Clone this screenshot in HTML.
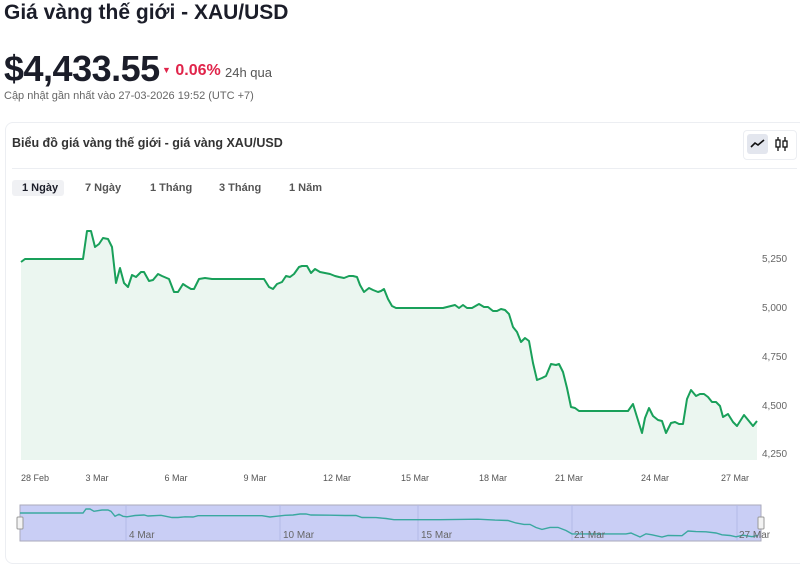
<!DOCTYPE html>
<html><head><meta charset="utf-8"><style>
body{margin:0;background:#fff;width:800px;height:547px;overflow:hidden;font-family:"Liberation Sans","DejaVu Sans",sans-serif;color:#1b1d29;position:relative}
.a{position:absolute;white-space:nowrap}
</style></head><body>
<div class="a" style="left:4px;top:1px;font-size:21px;font-weight:600">Giá vàng thế giới - XAU/USD</div>
<div class="a" style="left:4px;top:48px;font-size:36px;font-weight:700;letter-spacing:-0.5px">$4,433.55</div>
<div class="a" style="left:162px;top:62px;font-size:16px;font-weight:700;color:#e0244a"><span style="font-size:9px;vertical-align:2px">▼</span> 0.06%</div>
<div class="a" style="left:225px;top:65px;font-size:13px;color:#555">24h qua</div>
<div class="a" style="left:4px;top:90px;font-size:11px;color:#666">Cập nhật gần nhất vào 27-03-2026 19:52 (UTC +7)</div>
<div class="a" style="left:5px;top:122px;width:800px;height:440px;border:1px solid #eceef2;border-radius:8px"></div>
<div class="a" style="left:12px;top:136px;font-size:12.5px;font-weight:600;color:#333">Biểu đồ giá vàng thế giới - giá vàng XAU/USD</div>
<div class="a" style="left:12px;top:168px;width:785px;border-top:1px solid #eceef2"></div>
<div class="a" style="left:743px;top:130px;width:52px;height:28px;border:1px solid #eceef2;border-radius:4px"></div>
<div class="a" style="left:747px;top:134px;width:21px;height:20px;background:#e3e6ee;border-radius:3px"></div>
<svg class="a" style="left:749px;top:137px" width="18" height="14"><polyline points="2,10 6,6 9,8 15,3" fill="none" stroke="#111" stroke-width="1.6"/></svg>
<svg class="a" style="left:774px;top:136px" width="16" height="16"><g stroke="#111" stroke-width="1.3" fill="none"><line x1="4" y1="1" x2="4" y2="15"/><rect x="2" y="4" width="4" height="7" fill="#fff"/><line x1="11" y1="1" x2="11" y2="15"/><rect x="9" y="5" width="4" height="6" fill="#fff"/></g></svg>
<div class="a" style="left:12px;top:180px;width:52px;height:16px;background:#f0f1f4;border-radius:3px"></div>
<div class="a" style="left:22px;top:182px;font-size:11px;font-weight:700">1 Ngày</div>
<div class="a" style="left:85px;top:182px;font-size:11px;font-weight:600;color:#555">7 Ngày</div>
<div class="a" style="left:150px;top:182px;font-size:11px;font-weight:600;color:#555">1 Tháng</div>
<div class="a" style="left:219px;top:182px;font-size:11px;font-weight:600;color:#555">3 Tháng</div>
<div class="a" style="left:289px;top:182px;font-size:11px;font-weight:600;color:#555">1 Năm</div>
<svg class="a" style="left:0;top:0" width="800" height="547">
<defs>
<polyline id="ln" points="21,262 25,259 83,259 87,231 91,231 95,247 99,244 103,238 108,239 112,247 116,283 120,268 124,283 128,287 132,275 136,277 141,272 144,272 149,281 153,280 158,274 162,276 169,279 174,292 178,292 183,284 186,286 191,289 194,289 199,279 205,278 212,279 264,279 269,287 273,289 277,284 282,282 286,276 290,277 294,274 299,267 302,266 307,266 311,273 315,269 320,272 325,273 330,274 335,276 339,277 344,278 349,276 353,276 357,277 360,285 364,292 369,288 373,290 378,292 381,291 384,289 388,299 392,306 396,308 443,308 455,305 459,308 463,305 467,308 472,308 479,304 484,307 488,307 493,311 497,311 501,309 505,310 509,314 513,327 517,332 521,342 525,338 529,341 533,363 537,380 542,378 546,376 551,364 556,365 559,364 563,372 567,388 571,407 575,408 579,411 628,411 633,404 637,417 642,433 645,418 649,408 653,416 658,420 662,421 666,433 671,423 675,422 679,424 683,424 687,399 691,390 696,396 700,394 704,394 708,397 712,402 716,402 720,406 723,417 728,414 733,422 737,426 744,415 753,426 757,421"/>
</defs>
<polygon fill="#ebf6f0" points="21,460 21,262 25,259 83,259 87,231 91,231 95,247 99,244 103,238 108,239 112,247 116,283 120,268 124,283 128,287 132,275 136,277 141,272 144,272 149,281 153,280 158,274 162,276 169,279 174,292 178,292 183,284 186,286 191,289 194,289 199,279 205,278 212,279 264,279 269,287 273,289 277,284 282,282 286,276 290,277 294,274 299,267 302,266 307,266 311,273 315,269 320,272 325,273 330,274 335,276 339,277 344,278 349,276 353,276 357,277 360,285 364,292 369,288 373,290 378,292 381,291 384,289 388,299 392,306 396,308 443,308 455,305 459,308 463,305 467,308 472,308 479,304 484,307 488,307 493,311 497,311 501,309 505,310 509,314 513,327 517,332 521,342 525,338 529,341 533,363 537,380 542,378 546,376 551,364 556,365 559,364 563,372 567,388 571,407 575,408 579,411 628,411 633,404 637,417 642,433 645,418 649,408 653,416 658,420 662,421 666,433 671,423 675,422 679,424 683,424 687,399 691,390 696,396 700,394 704,394 708,397 712,402 716,402 720,406 723,417 728,414 733,422 737,426 744,415 753,426 757,421 757,460"/>
<use href="#ln" fill="none" stroke="#19a05a" stroke-width="2" stroke-linejoin="round"/>
<g font-size="10" fill="#666">
<text x="762" y="262">5,250</text><text x="762" y="311">5,000</text><text x="762" y="360">4,750</text><text x="762" y="409">4,500</text><text x="762" y="457">4,250</text>
</g>
<g font-size="9" fill="#555" text-anchor="middle">
<text x="35" y="481">28 Feb</text><text x="97" y="481">3 Mar</text><text x="176" y="481">6 Mar</text><text x="255" y="481">9 Mar</text><text x="337" y="481">12 Mar</text><text x="415" y="481">15 Mar</text><text x="493" y="481">18 Mar</text><text x="569" y="481">21 Mar</text><text x="655" y="481">24 Mar</text><text x="735" y="481">27 Mar</text>
</g>
<rect x="20" y="505" width="741" height="36" fill="#c9cef5" stroke="#aab" stroke-width="1"/>
<g stroke="#b3b9e6" stroke-width="1"><line x1="126" y1="505" x2="126" y2="541"/><line x1="280" y1="505" x2="280" y2="541"/><line x1="418" y1="505" x2="418" y2="541"/><line x1="572" y1="505" x2="572" y2="541"/><line x1="737" y1="505" x2="737" y2="541"/></g>
<polyline fill="none" stroke="#3aa8a0" stroke-width="1.4" points="20,513 83,513 86,509 90,509 94,511.3 102,510 108,510 111,511.3 115,516.3 119,514.3 123,516.3 127,516.8 135,515.5 144,515 148,516 161,515.3 172,517.5 178,517.5 185,516.8 193,517 198,515.7 262,515.7 270,517 276,516.3 285,515.3 293,515 300,514 306,514 311,515 330,515.2 345,515.5 356,515.5 362,517.5 376,517.6 386,518.5 394,519.7 440,519.7 478,519.2 495,520.1 508,520.5 516,523 524,524.4 530,524.4 536,527.5 542,529.4 550,527.4 558,527.4 566,530.5 572,533.9 626,533.9 631,533 640,537 646,533.8 652,534.8 662,537 668,535.5 682,535.7 688,531 696,531.6 706,531.8 716,533 722,534.8 730,535.5 736,536.8 743,535.2 752,536.7 758,535.3"/>
<g font-size="10" fill="#666"><text x="129" y="538">4 Mar</text><text x="283" y="538">10 Mar</text><text x="421" y="538">15 Mar</text><text x="574" y="538">21 Mar</text><text x="739" y="538">27 Mar</text></g>
<rect x="17" y="517" width="6" height="12" fill="#f3f3f3" stroke="#999" rx="1"/>
<rect x="758" y="517" width="6" height="12" fill="#f3f3f3" stroke="#999" rx="1"/>
</svg>
</body></html>
